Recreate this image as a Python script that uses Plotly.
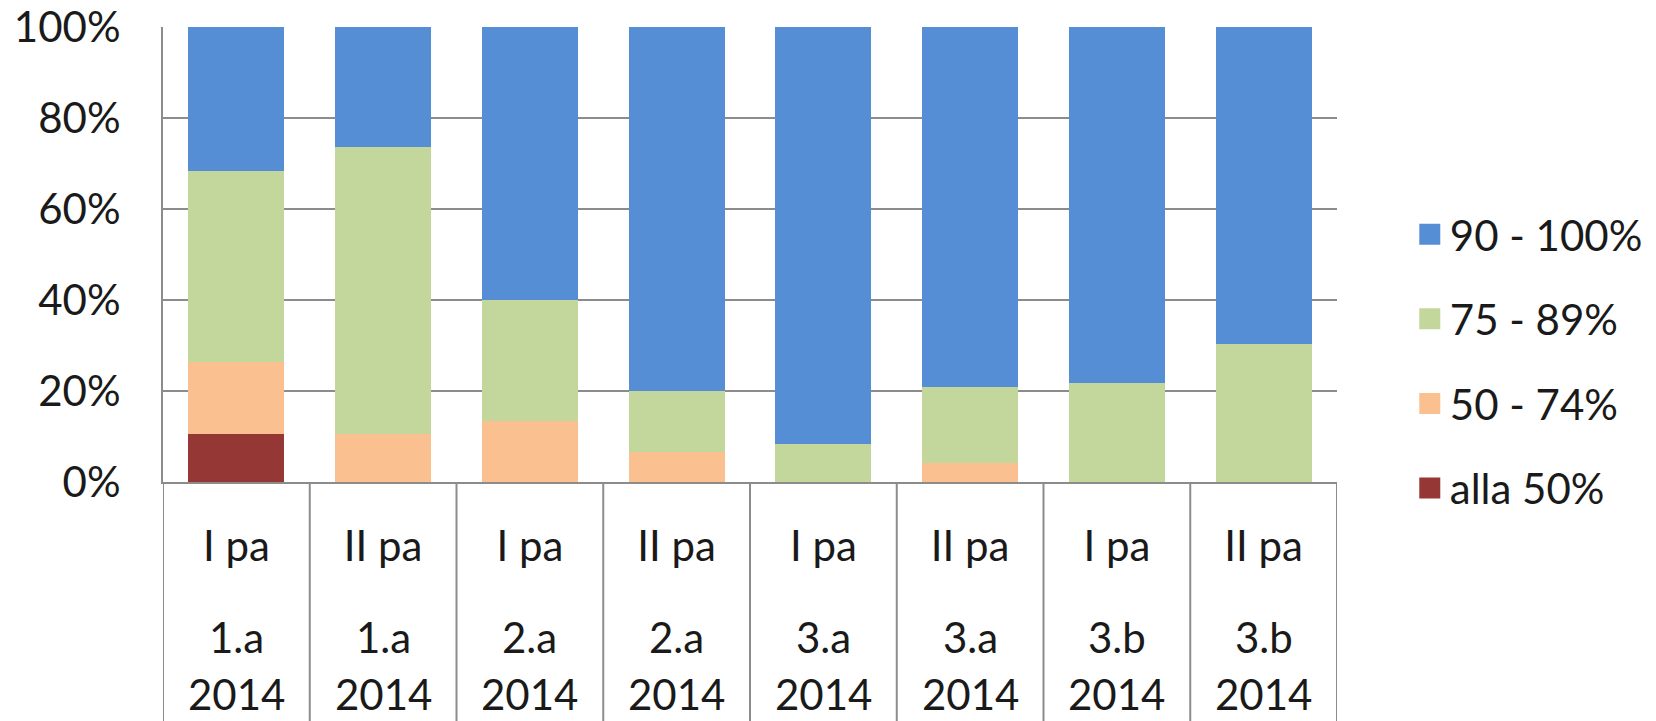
import plotly.graph_objects as go

categories = ["I pa", "II pa", "I pa", "II pa", "I pa", "II pa", "I pa", "II pa"]
groups = ["1.a", "1.a", "2.a", "2.a", "3.a", "3.a", "3.b", "3.b"]
years = ["2014", "2014", "2014", "2014", "2014", "2014", "2014", "2014"]

series_names = ["alla 50%", "50 - 74%", "75 - 89%", "90 - 100%"]
alla_50 = [10.5, 0, 0, 0, 0, 0, 0, 0]
r50_74 = [15.8, 10.5, 13.3, 6.7, 0, 4.2, 0, 0]
r75_89 = [42.1, 63.2, 26.7, 13.3, 8.3, 16.6, 21.7, 30.4]
r90_100 = [31.6, 26.3, 60.0, 80.0, 91.7, 79.2, 78.3, 69.6]
colors = ["#953735", "#FAC090", "#C3D69B", "#558ED5"]

FONT = "Lato, Calibri, 'Open Sans', sans-serif"
GRID = "#8C8C8C"
TXT = "#1a1a1a"
FS = 42
W, H = 1656, 721
ML, MR, MT, MB = 163, 319, 27, 239
plot_h = H - MT - MB

x_idx = list(range(len(categories)))

fig = go.Figure()
for name, vals, col in zip(series_names, [alla_50, r50_74, r75_89, r90_100], colors):
    fig.add_trace(go.Bar(x=x_idx, y=vals, name=name, marker=dict(color=col, line=dict(width=0)),
                         showlegend=False))
# legend entries (top series first)
for name, col in reversed(list(zip(series_names, colors))):
    fig.add_trace(go.Scatter(x=[None], y=[None], mode="markers", name=name, legendgroup=name,
                             marker=dict(symbol="square", size=16, color=col,
                                         line=dict(width=5, color=col))))

# second level of category labels (two lines)
for i, (g, yr) in enumerate(zip(groups, years)):
    fig.add_annotation(x=i, y=-155 / plot_h, xref="x", yref="paper", text=g,
                       showarrow=False, xanchor="center", yanchor="middle",
                       font=dict(family=FONT, size=FS, color=TXT))
    fig.add_annotation(x=i, y=-212 / plot_h, xref="x", yref="paper", text=yr,
                       showarrow=False, xanchor="center", yanchor="middle",
                       font=dict(family=FONT, size=FS, color=TXT))

fig.update_layout(
    width=W, height=H,
    margin=dict(l=ML, r=MR, t=MT, b=MB, autoexpand=False),
    barmode="stack",
    bargap=0.346,
    plot_bgcolor="white",
    paper_bgcolor="white",
    font=dict(family=FONT, size=FS, color=TXT),
    legend=dict(x=1.062, xanchor="left", y=0.265, yanchor="middle",
                traceorder="grouped", tracegroupgap=27,
                font=dict(family=FONT, size=FS, color=TXT),
                bgcolor="rgba(0,0,0,0)"),
)
fig.update_xaxes(
    type="linear",
    range=[-0.5, len(categories) - 0.5],
    tickmode="array",
    tickvals=x_idx,
    ticktext=categories,
    showgrid=False, zeroline=False,
    showline=True, linecolor=GRID, linewidth=2,
    ticks="",
    automargin=False,
    ticklabelstandoff=27,
    tickfont=dict(family=FONT, size=FS, color=TXT),
)
# vertical dividers below the axis (category boundaries)
for b in range(len(categories) + 1):
    fig.add_shape(type="line", xref="x", yref="paper", x0=b - 0.5, x1=b - 0.5,
                  y0=0, y1=-MB / plot_h - 0.01, line=dict(color=GRID, width=2))

fig.update_yaxes(
    range=[0, 100],
    tickmode="linear", tick0=0, dtick=20,
    ticksuffix="%",
    showgrid=True, gridcolor=GRID, gridwidth=2,
    zeroline=False,
    showline=True, linecolor=GRID, linewidth=2,
    ticks="",
    automargin=False,
    ticklabelstandoff=32,
    tickfont=dict(family=FONT, size=FS, color=TXT),
)

fig.write_html(
    "out.html",
    config={"displayModeBar": False},
    post_script="document.body.style.margin='0';document.body.style.overflow='hidden';",
)
